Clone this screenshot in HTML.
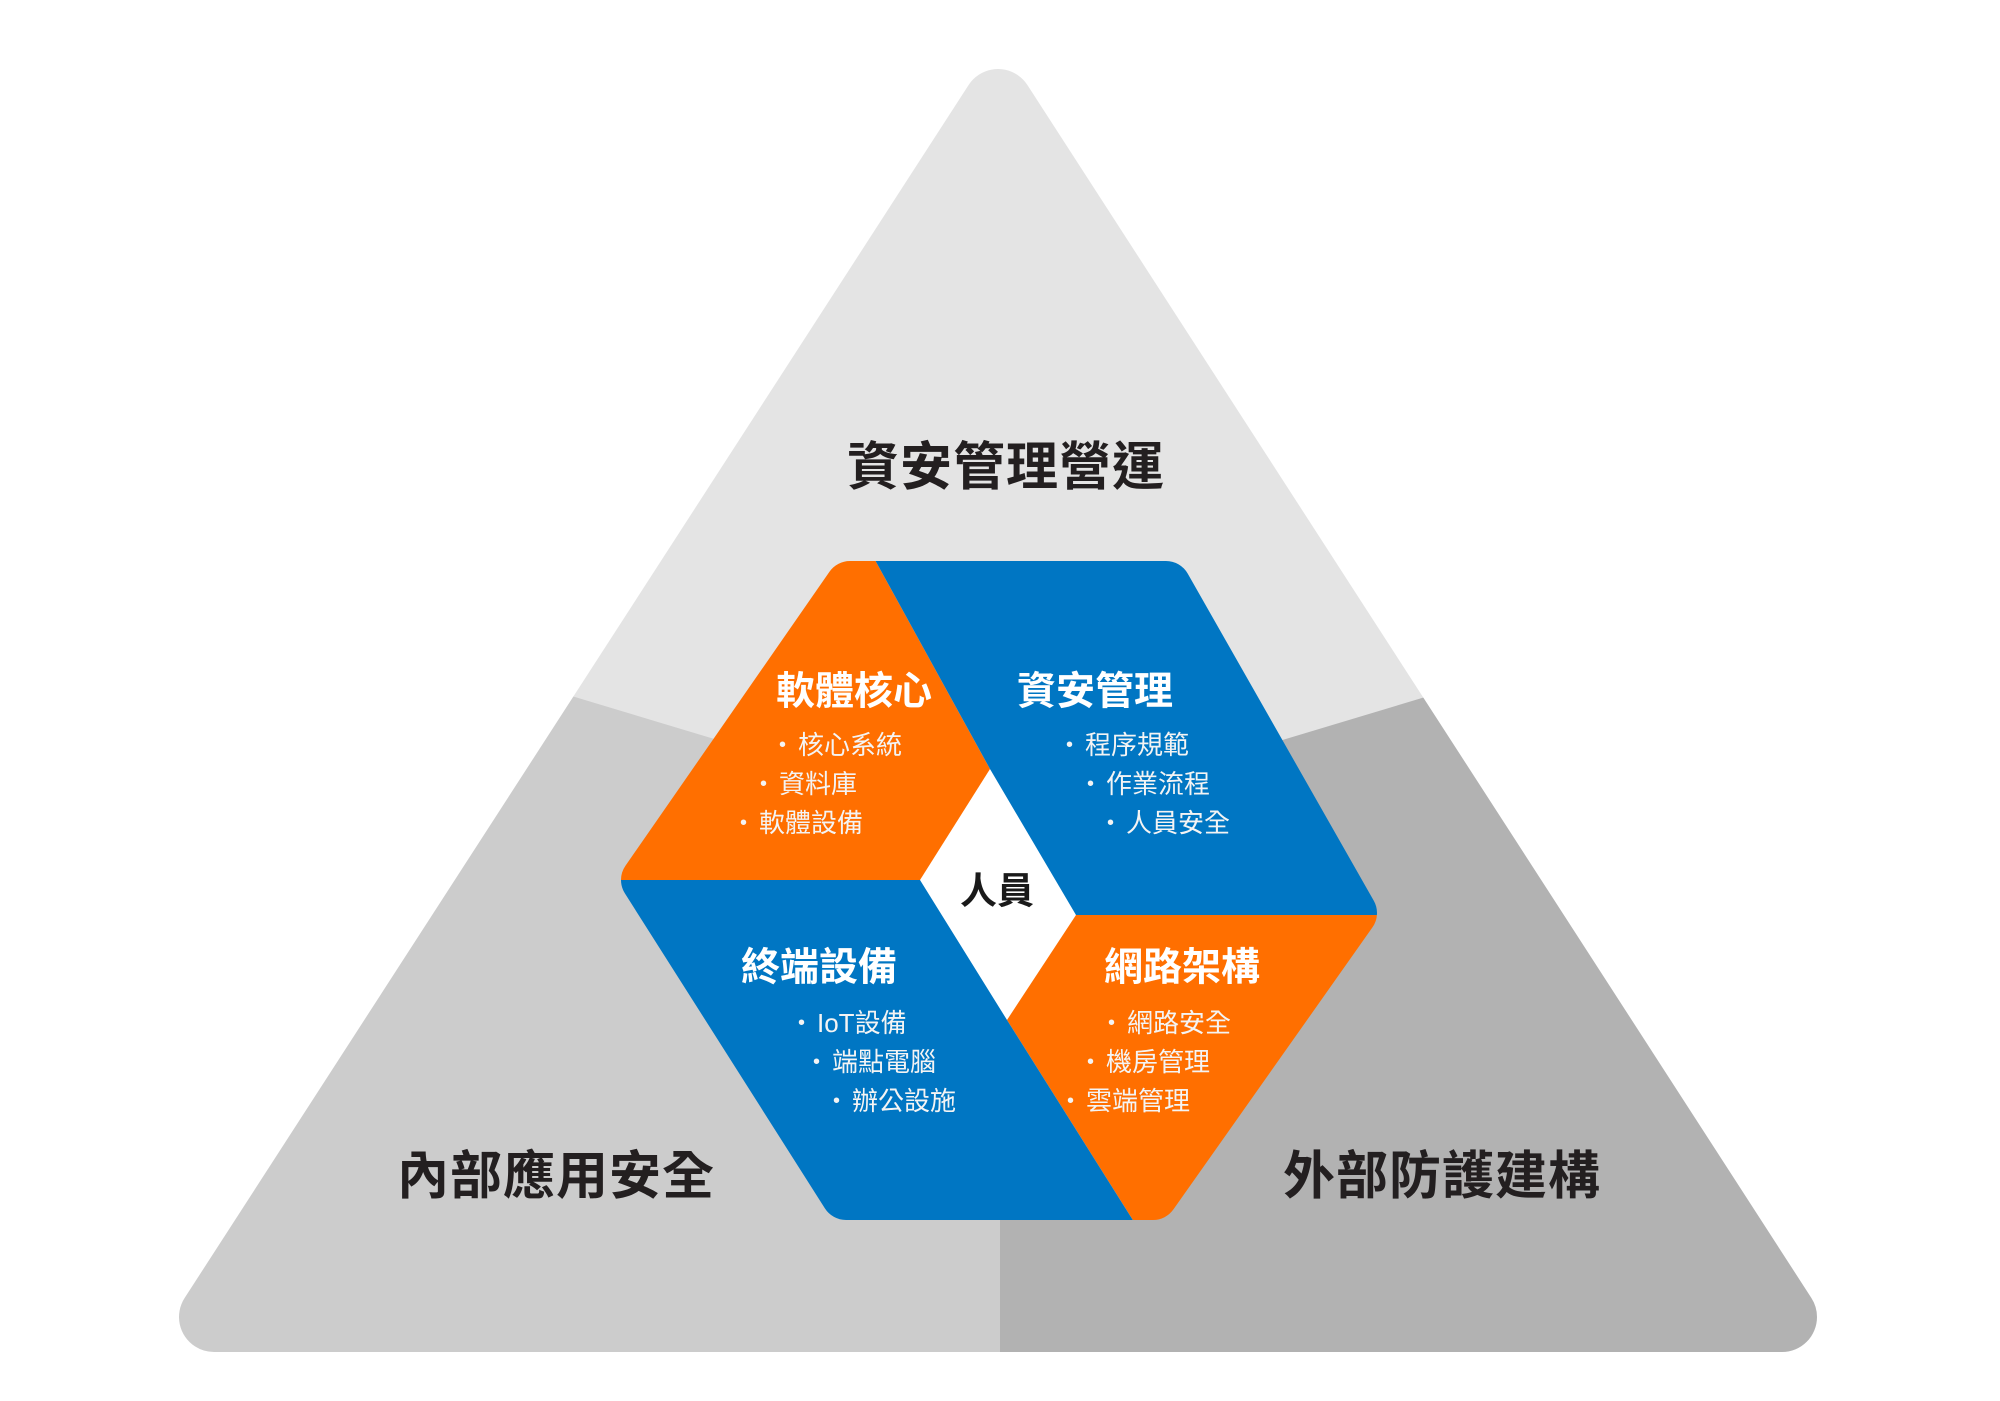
<!DOCTYPE html>
<html><head><meta charset="utf-8"><style>
html,body{margin:0;padding:0;background:#fff;}
#c{position:relative;width:2000px;height:1401px;overflow:hidden;background:#fff;font-family:"Liberation Sans","Noto Sans CJK TC",sans-serif;}
svg{position:absolute;left:0;top:0;}
.t{position:absolute;white-space:nowrap;font-weight:700;text-align:center;transform:translate(-50%,-50%);line-height:1;}
.big{font-size:52px;color:#231f20;letter-spacing:1px;}
.h{font-size:39px;color:#fff;}
.b{position:absolute;white-space:nowrap;font-size:26px;line-height:39px;height:39px;color:#f4f4f4;}
.b span{display:inline-block;width:19px;font-size:20px;vertical-align:top;}
</style></head><body><div id="c">
<svg width="2000" height="1401" viewBox="0 0 2000 1401">
<defs>
<mask id="tm"><polygon points="998,104 214,1317 1782,1317" fill="#fff" stroke="#fff" stroke-width="70" stroke-linejoin="round"/></mask>
<mask id="hm"><polygon points="850,586 1166,586 1352,913 1153,1195 846,1195 646,880" fill="#fff" stroke="#fff" stroke-width="50" stroke-linejoin="round"/></mask>
</defs>
<g mask="url(#tm)">
<rect x="0" y="0" width="2000" height="1401" fill="#e4e4e4"/>
<polygon points="1000,825 0,524 0,1401 1000,1401" fill="#cccccc"/>
<polygon points="1000,825 2000,524 2000,1401 1000,1401" fill="#b2b2b2"/>
</g>
<g mask="url(#hm)">
<rect x="580" y="540" width="840" height="720" fill="#fff"/>
<polygon points="800,540 864,540 990,769 920,880 580,880" fill="#ff6f00"/>
<polygon points="864,540 1420,540 1420,915 1076,915 990,769" fill="#0076c3"/>
<polygon points="1076,915 1420,915 1420,1260 1158,1260 1007,1020" fill="#ff6f00"/>
<polygon points="580,880 920,880 1007,1020 1158,1260 580,1260" fill="#0076c3"/>
</g>
</svg>
<div class="t big" style="left:1006px;top:468px;">資安管理營運</div>
<div class="t big" style="left:556px;top:1177px;">內部應用安全</div>
<div class="t big" style="left:1442px;top:1177px;">外部防護建構</div>
<div class="t h" style="left:854px;top:692px;">軟體核心</div>
<div class="t h" style="left:1095px;top:692px;">資安管理</div>
<div class="t h" style="left:819px;top:968px;">終端設備</div>
<div class="t h" style="left:1182px;top:968px;">網路架構</div>
<div class="t" style="left:997px;top:891px;font-size:37px;color:#1a1a1a;">人員</div>
<div class="b" style="left:779px;top:726px;"><span>•</span>核心系統</div>
<div class="b" style="left:760px;top:765px;"><span>•</span>資料庫</div>
<div class="b" style="left:740px;top:804px;"><span>•</span>軟體設備</div>
<div class="b" style="left:1066px;top:726px;"><span>•</span>程序規範</div>
<div class="b" style="left:1087px;top:765px;"><span>•</span>作業流程</div>
<div class="b" style="left:1107px;top:804px;"><span>•</span>人員安全</div>
<div class="b" style="left:798px;top:1004px;"><span>•</span>IoT設備</div>
<div class="b" style="left:813px;top:1043px;"><span>•</span>端點電腦</div>
<div class="b" style="left:833px;top:1082px;"><span>•</span>辦公設施</div>
<div class="b" style="left:1108px;top:1004px;"><span>•</span>網路安全</div>
<div class="b" style="left:1087px;top:1043px;"><span>•</span>機房管理</div>
<div class="b" style="left:1067px;top:1082px;"><span>•</span>雲端管理</div>
</div></body></html>
